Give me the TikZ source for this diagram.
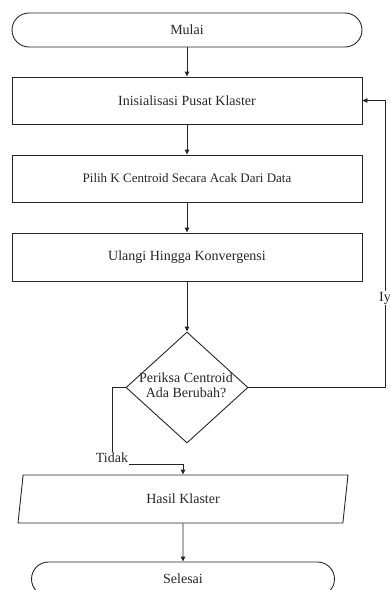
\documentclass[tikz,border=0pt]{standalone}
\usepackage{fontspec}
\setmainfont{Liberation Serif}
\usetikzlibrary{shapes.geometric,arrows.meta}
\begin{document}
\begin{tikzpicture}[x=1pt,y=-1pt,
  every node/.style={font=\fontsize{14}{14}\selectfont, text=black!85},
  line/.style={draw=black!85, line width=0.9pt},
  arr/.style={line, -{Triangle[length=5pt,width=4.5pt]}},
  term/.style={line, rectangle, rounded corners=17pt, minimum height=34pt, inner sep=0pt},
  procbox/.style={line, rectangle, minimum width=350pt, inner sep=0pt},
  decide/.style={line, diamond, minimum width=122pt, minimum height=111pt, inner sep=0pt},
  iobox/.style={line, trapezium, trapezium left angle=62.5, trapezium right angle=117.5,
     trapezium stretches body, minimum width=330pt, minimum height=48pt, inner sep=0pt},
  lbl/.style={inner sep=1pt}]
\clip (0,0) rectangle (390,590);
\node[term, minimum width=350pt] (mulai) at (187,30) {Mulai};
\node[procbox, minimum height=47pt] (init) at (187,100.5) {Inisialisasi Pusat Klaster};
\node[procbox, minimum height=47pt, font=\fontsize{13}{13}\selectfont] (pilih) at (187,178.5) {Pilih K Centroid Secara Acak Dari Data};
\node[procbox, minimum height=48pt] (ulangi) at (187,257) {Ulangi Hingga Konvergensi};
\node[decide] (periksa) at (187,387.5) {};
\node[align=center, inner sep=0pt, font=\fontsize{14}{14.5}\selectfont] (periksatxt) at (186,385) {Periksa Centroid\\Ada Berubah?};
\node[iobox] (hasil) at (183,499) {Hasil Klaster};
\node[term, minimum width=303pt] (selesai) at (183,579) {Selesai};
\coordinate (fb) at (385,387.5);
\node[lbl] (tidak) at (112,458) {Tidak};

\draw[arr] (mulai) -- (init);
\draw[arr] (init) -- (pilih);
\draw[arr] (pilih) -- (ulangi);
\draw[arr] (ulangi) -- (periksa);
\draw[arr] (periksa.east) -- (fb) |- (init.east);
\node[lbl, fill=white] (iya) at (385,298) {Iy};
\draw[line] (periksa.west) -| (tidak.north);
\draw[arr] (tidak.south east) -| (hasil.north);
\draw[arr] (hasil) -- (selesai);
\end{tikzpicture}
\end{document}
